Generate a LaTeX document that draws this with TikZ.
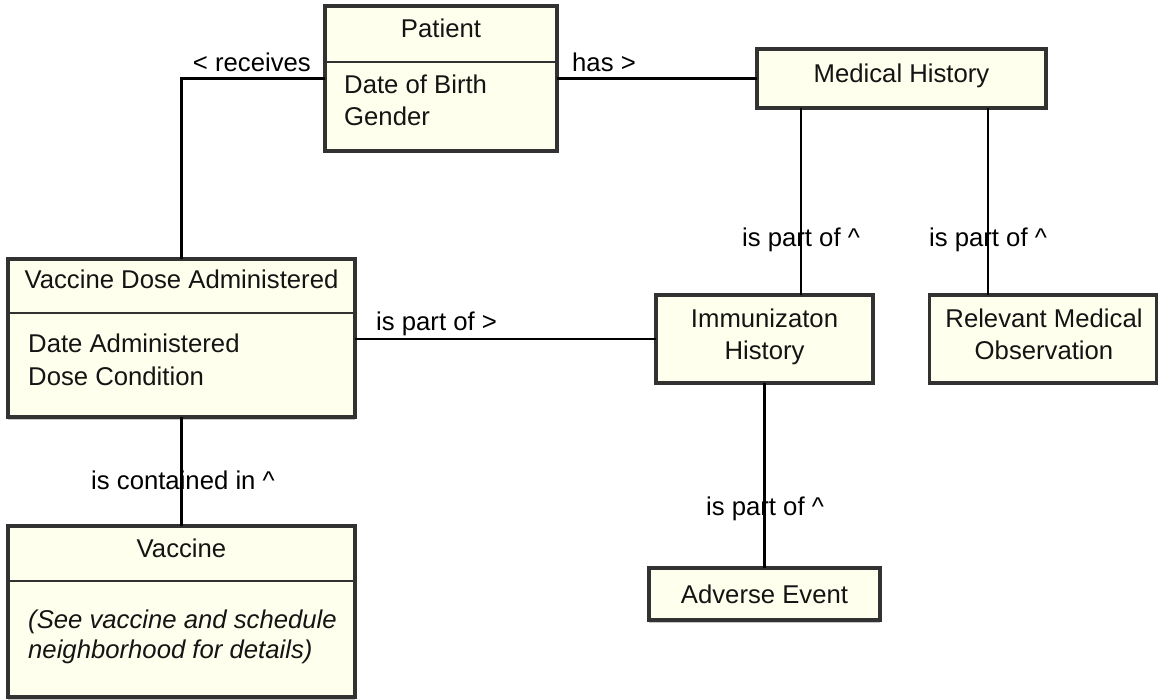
\documentclass[tikz,border=0pt]{standalone}
\usepackage{fontspec}
\setmainfont{Liberation Sans}
\usetikzlibrary{shadows}
\definecolor{boxfill}{RGB}{255,255,238}
\definecolor{boxdraw}{RGB}{50,50,50}
\definecolor{txt}{RGB}{20,20,20}
\tikzset{
  box/.style={rectangle, draw=boxdraw, line width=3.2pt, fill=boxfill, inner sep=0pt, outer sep=0pt,
    drop shadow={shadow xshift=0pt, shadow yshift=-2.5pt, opacity=0.22, fill=black}},
  divline/.style={draw=boxdraw, line width=2.8pt},
  conn/.style={draw=black, line width=2.6pt},
  txtb/.style={inner sep=0pt, anchor=base, text=txt, font=\fontsize{25.7}{32}\selectfont},
  txtl/.style={inner sep=0pt, anchor=base west, text=txt, font=\fontsize{25.7}{32}\selectfont},
  lbl/.style={inner sep=0pt, anchor=base, text=black, font=\fontsize{25.7}{32}\selectfont},
}
\begin{document}
\begin{tikzpicture}[x=1pt, y=-1pt]
\useasboundingbox (0,0) rectangle (1159,700);
% boxes
\node[box, minimum width=232, minimum height=145] (patient) at (441,78.5) {};
\node[box, minimum width=289, minimum height=59] (mh) at (901.5,78.5) {};
\node[box, minimum width=347, minimum height=158] (vda) at (181.5,338) {};
\node[box, minimum width=217, minimum height=88] (ih) at (764.5,339) {};
\node[box, minimum width=227, minimum height=88] (rmo) at (1043,339) {};
\node[box, minimum width=347, minimum height=171] (vac) at (181.5,611.5) {};
\node[box, minimum width=231, minimum height=52] (ae) at (764.5,594) {};
% dividers
\draw[divline] (patient.west |- 0,62) -- (patient.east |- 0,62);
\draw[divline] (vda.west |- 0,313) -- (vda.east |- 0,313);
\draw[divline] (vac.west |- 0,581) -- (vac.east |- 0,581);
% box texts
\node[txtb] (tpatient) at (441,38) {Patient};
\node[txtl] (pa1) at (344,94) {Date of Birth};
\node[txtl] (pa2) at (344,126) {Gender};
\node[txtb] (tmh) at (901.5,83) {Medical History};
\node[txtb] (tvda) at (181.5,289) {Vaccine Dose Administered};
\node[txtl] (va1) at (28,353) {Date Administered};
\node[txtl] (va2) at (28,385) {Dose Condition};
\node[txtb] (tih1) at (764.5,328) {Immunizaton};
\node[txtb] (tih2) at (764.5,360) {History};
\node[txtb] (trmo1) at (1044,328) {Relevant Medical};
\node[txtb] (trmo2) at (1044,360) {Observation};
\node[txtb] (tvac) at (181.5,557) {Vaccine};
\node[txtl] (vc1) at (28,628) {\itshape (See vaccine and schedule};
\node[txtl] (vc2) at (28,658) {\itshape neighborhood for details)};
\node[txtb] (tae) at (764.5,603) {Adverse Event};
% connectors
\coordinate (c1) at (801,0);
\coordinate (c2) at (988,0);
\draw[conn] (patient.west) -| (vda.north);
\draw[conn] (patient.east) -- (mh.west);
\draw[conn] (mh.south -| c1) -- (ih.north -| c1);
\draw[conn] (mh.south -| c2) -- (rmo.north -| c2);
\draw[conn] (vda.east |- ih.west) -- (ih.west);
\draw[conn] (ih.south) -- (ae.north);
\draw[conn] (vda.south) -- (vac.north);
% connector labels
\node[lbl, anchor=base east] (l1) at (311,72) {< receives};
\node[lbl, anchor=base west] (l2) at (572,72) {has >};
\node[lbl] (l3) at (801,247) {is part of \textasciicircum};
\node[lbl] (l4) at (988,247) {is part of \textasciicircum};
\node[lbl, anchor=base west] (l5) at (376,331) {is part of >};
\node[lbl] (l6) at (765,515) {is part of \textasciicircum};
\node[lbl] (l7) at (183,489) {is contained in \textasciicircum};
\end{tikzpicture}
\end{document}
